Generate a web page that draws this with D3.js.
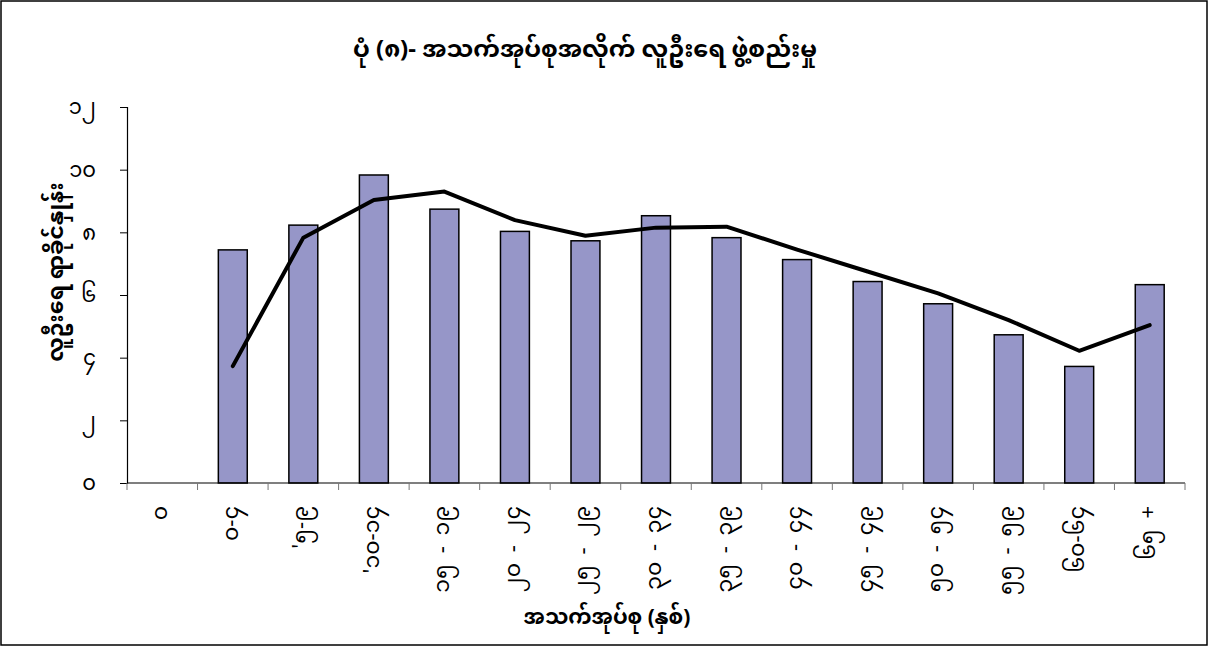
<!DOCTYPE html>
<html>
<head>
<meta charset="UTF-8">
<style>
html, body { margin:0; padding:0; background:#fff; }
svg { display:block; }
.mm { font-family: "Noto Sans Myanmar", "Padauk", "Myanmar Text", "Noto Sans", sans-serif; }
</style>
</head>
<body>
<svg width="1208" height="646"></svg>
<script src="https://d3js.org/d3.v7.min.js"></script>
<script>
// data
var categories = ["၀", "၀-၄", "'၅-၉", "'၁၀-၁၄", "၁၅ - ၁၉", "၂၀ - ၂၄", "၂၅ - ၂၉", "၃၀ - ၃၄",
                  "၃၅ - ၃၉", "၄၀ - ၄၄", "၄၅ - ၄၉", "၅၀ - ၅၄", "၅၅ - ၅၉", "၆၀-၆၄", "၆၅ +"];
var barValues  = [null, 7.44, 8.23, 9.83, 8.74, 8.03, 7.73, 8.53, 7.83, 7.13, 6.43, 5.72, 4.73, 3.72, 6.33];
var lineValues = [null, 3.73, 7.83, 9.03, 9.30, 8.39, 7.89, 8.15, 8.18, 7.45, 6.75, 6.05, 5.20, 4.22, 5.04];
var yTicks = [0, 2, 4, 6, 8, 10, 12];
var myDigits = "၀၁၂၃၄၅၆၇၈၉";
var titleText = "ပုံ (၈)- အသက်အုပ်စုအလိုက် လူဦးရေ ဖွဲ့စည်းမှု";
var yTitle = "လူဦးရေ ရာခိုင်နှုန်း";
var xTitle = "အသက်အုပ်စု (နှစ်)";

function toMy(n) {
  return String(n).replace(/[0-9]/g, function(c) { return myDigits[+c]; });
}

var svg = d3.select("svg");
var plotL = 127, plotR = 1185, plotT = 107, plotB = 483;

svg.append("rect")
  .attr("x", 1).attr("y", 1).attr("width", 1206).attr("height", 644)
  .attr("fill", "#fff").attr("stroke", "#000").attr("stroke-width", 1.5);

var x = d3.scaleBand().domain(categories).range([plotL, plotR]).padding(0);
var y = d3.scaleLinear().domain([0, 12]).range([plotB, plotT]);

// title
svg.append("text").attr("class", "mm")
  .attr("x", 585).attr("y", 57)
  .attr("text-anchor", "middle")
  .attr("font-size", 24).attr("font-weight", "bold")
  .text(titleText);

// y axis
var yAxis = svg.append("g").attr("transform", "translate(" + plotL + ",0)")
  .call(d3.axisLeft(y).tickValues(yTicks).tickSize(7).tickPadding(24).tickFormat(toMy));
yAxis.select(".domain").attr("stroke", "#000").attr("stroke-width", 1.2);
yAxis.selectAll(".tick line").attr("stroke", "#000");
yAxis.selectAll(".tick text").attr("class", "mm").attr("font-size", 21).attr("fill", "#000");

// bars
var bw = x.bandwidth() * 0.41;
svg.append("g").selectAll("rect")
  .data(categories.map(function(c, i) { return {c: c, v: barValues[i]}; }).filter(function(d) { return d.v != null; }))
  .enter().append("rect")
    .attr("x", function(d) { return x(d.c) + x.bandwidth() / 2 - bw / 2; })
    .attr("y", function(d) { return y(d.v); })
    .attr("width", bw)
    .attr("height", function(d) { return y(0) - y(d.v); })
    .attr("fill", "#9696c8")
    .attr("stroke", "#000")
    .attr("stroke-width", 1.5);

// x axis
var xg = svg.append("g");
xg.append("line")
  .attr("x1", plotL).attr("x2", plotR).attr("y1", plotB).attr("y2", plotB)
  .attr("stroke", "#000").attr("stroke-width", 1.2);
xg.selectAll(".xt")
  .data(categories.concat(["end"]))
  .enter().append("line")
    .attr("x1", function(d, i) { return plotL + i * x.bandwidth(); })
    .attr("x2", function(d, i) { return plotL + i * x.bandwidth(); })
    .attr("y1", plotB).attr("y2", plotB + 7)
    .attr("stroke", "#777");
xg.selectAll(".xl")
  .data(categories)
  .enter().append("text")
    .attr("class", "mm")
    .attr("font-size", 22)
    .attr("word-spacing", 5)
    .attr("text-anchor", "end")
    .attr("dominant-baseline", "central")
    .attr("transform", function(d) { return "translate(" + (x(d) + x.bandwidth() / 2) + "," + (plotB + 23) + ") rotate(-90)"; })
    .text(function(d) { return d; });

// line
var line = d3.line()
  .defined(function(d) { return d.v != null; })
  .x(function(d) { return x(d.c) + x.bandwidth() / 2; })
  .y(function(d) { return y(d.v); });
svg.append("path")
  .datum(categories.map(function(c, i) { return {c: c, v: lineValues[i]}; }))
  .attr("d", line)
  .attr("fill", "none")
  .attr("stroke", "#000")
  .attr("stroke-width", 4)
  .attr("stroke-linejoin", "round")
  .attr("stroke-linecap", "round");

// axis titles
svg.append("text").attr("class", "mm")
  .attr("transform", "translate(58,272) rotate(-90)")
  .attr("text-anchor", "middle")
  .attr("dominant-baseline", "central")
  .attr("font-size", 22).attr("font-weight", "bold")
  .text(yTitle);
svg.append("text").attr("class", "mm")
  .attr("x", 607).attr("y", 624)
  .attr("text-anchor", "middle")
  .attr("font-size", 21).attr("font-weight", "bold")
  .text(xTitle);
</script>
</body>
</html>
